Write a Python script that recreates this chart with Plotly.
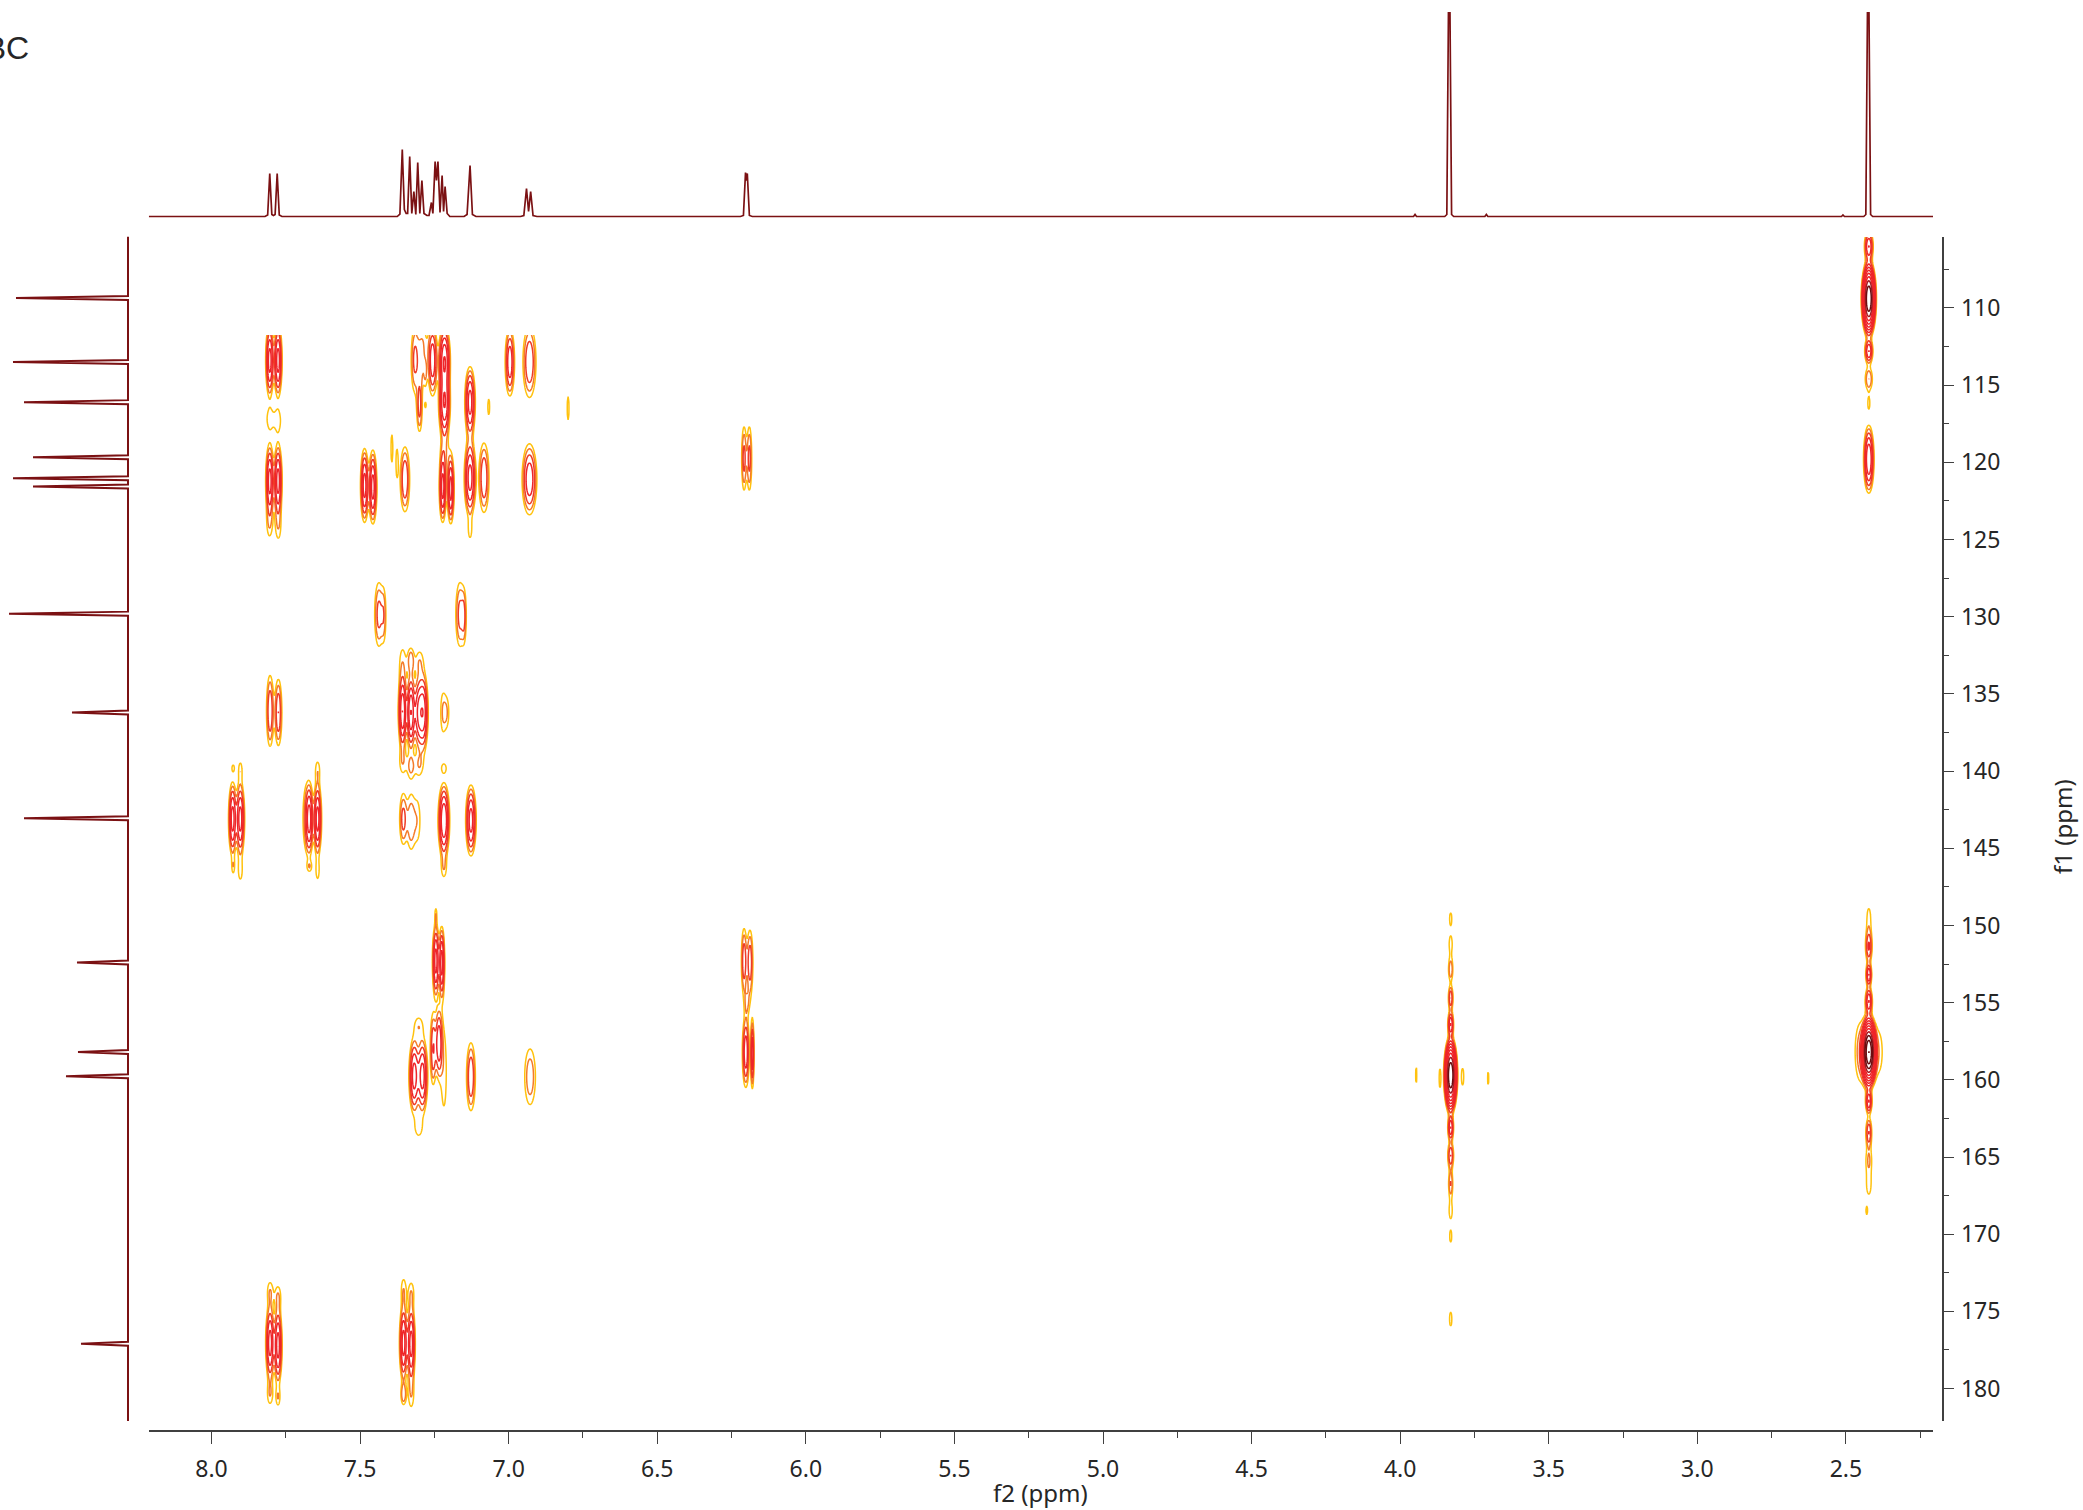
import numpy as np
import plotly.graph_objects as go

W, H = 2083, 1510

# ---- 1H trace along the top (ppm, height)
TOP_PPM = [8.211, 7.82, 7.811, 7.804, 7.797, 7.7915, 7.786, 7.779, 7.772, 7.763,
           7.375, 7.366, 7.358, 7.351, 7.345, 7.340, 7.333, 7.326, 7.319, 7.3125, 7.306, 7.299, 7.292,
           7.285, 7.275, 7.268, 7.26, 7.255, 7.2475, 7.243, 7.238, 7.231, 7.224, 7.219, 7.214, 7.207, 7.198,
           7.15, 7.14, 7.13, 7.122, 7.11,
           6.96, 6.949, 6.94, 6.933, 6.926, 6.918, 6.905,
           6.22, 6.21, 6.203, 6.201, 6.197, 6.19, 6.18,
           3.955, 3.95, 3.945,
           3.85, 3.843, 3.835, 3.827, 3.82,
           3.715, 3.71, 3.705,
           2.515, 2.51, 2.505,
           2.44, 2.433, 2.425, 2.417, 2.41,
           2.207]
TOP_INT = [0, 0, 1.5, 43, 2, 1, 2, 43, 1.5, 0,
           0, 2.5, 67, 7, 3, 3, 60, 3, 25, 2, 54, 3, 36,
           3, 1, 1, 14, 3, 55, 36, 55, 4, 41, 5, 30, 3, 0,
           0, 2, 51, 2, 0,
           0, 1, 28, 5, 25, 1, 0,
           0, 1, 44, 36, 43, 1, 0,
           0, 2, 0,
           0, 2, 300, 2, 0,
           0, 2, 0,
           0, 1.5, 0,
           0, 2, 300, 2, 0,
           0]

# ---- 13C trace along the left (ppm, height)
C13_PPM = [109.35, 113.5, 116.1, 119.67, 121.03, 121.57, 129.8, 136.2, 143.06, 152.4, 158.2, 159.77, 177.1]
C13_INT = [112, 115, 104, 95, 115, 95, 119, 56, 104, 51, 50, 62, 47]

# ---- HMBC cross peaks: (f2 ppm, f1 ppm, half width f2, half height f1, contour count)
# The contour surface is built from these read-off peak positions and extents.
PEAKS_F1_113 = [
    (7.804, 113.4, .014, 2.35, 4.5), (7.776, 113.4, .014, 2.35, 4.5),
    (7.804, 117.2, .008, .45, .5), (7.776, 117.3, .007, .45, .5),
    (7.316, 113.4, .012, 2.0, 2.2), (7.30, 116.4, .009, 1.6, 2.4),
    (7.295, 114.0, .006, .7, .6), (7.28, 114.3, .003, .5, .5), (7.29, 112.2, .01, .8, .7),
    (7.28, 116.3, .002, .15, .5),
    (7.256, 113.4, .016, 2.3, 3.8),
    (7.216, 113.4, .02, 2.3, 5), (7.216, 116.2, .02, 2.3, 5),
    (7.13, 116.1, .018, 2.3, 4.5),
    (7.067, 116.4, .003, .5, .5), (6.80, 116.5, .003, .75, .5),
    (6.996, 113.5, .016, 2.2, 3.8), (6.93, 113.5, .022, 2.3, 3),
]
PEAKS_F1_121 = [
    (7.804, 121.2, .014, 2.4, 4.5), (7.776, 121.2, .014, 2.4, 4.5),
    (7.805, 124.0, .006, .6, .5), (7.775, 124.2, .006, .6, .5),
    (7.485, 121.5, .014, 2.4, 4.5), (7.457, 121.6, .014, 2.4, 4.5),
    (7.393, 119.1, .003, .9, .5), (7.376, 120.0, .003, .8, .5),
    (7.349, 121.1, .016, 2.1, 3),
    (7.222, 121.6, .012, 2.3, 4.5), (7.195, 121.7, .012, 2.3, 4.5), (7.215, 119.3, .008, .7, .7),
    (7.13, 121.0, .02, 2.5, 4.5), (7.083, 121.0, .017, 2.25, 3), (7.13, 124.4, .004, .4, .5),
    (6.93, 121.1, .025, 2.3, 3.8),
    (6.208, 119.75, .008, 2.05, 2.4), (6.19, 119.75, .008, 2.05, 2.4),
]
PEAKS_F1_130 = [
    (7.437, 129.85, .014, 2.05, 2.4), (7.42, 129.9, .006, 1.3, 1.2),
    (7.164, 129.85, .014, 2.05, 2.4), (7.15, 130.0, .006, 1.3, 1.5),
]
PEAKS_F1_136 = [
    (7.803, 136.1, .012, 2.3, 3), (7.775, 136.2, .012, 2.15, 3),
    (7.357, 136.15, .015, 2.45, 5), (7.329, 136.2, .015, 2.45, 5),
    (7.30, 136.2, .02, 2.4, 4.5), (7.285, 136.2, .014, 2.3, 3.8),
    (7.357, 133.0, .008, .8, .6), (7.329, 132.8, .009, .7, 1.5), (7.30, 132.9, .009, .55, .7),
    (7.357, 139.4, .008, .55, .7), (7.329, 139.7, .009, .55, 1), (7.30, 139.6, .009, .5, .7),
    (7.222, 136.2, .006, 1, .7), (7.208, 136.2, .006, .7, .7), (7.218, 139.8, .006, .2, .5),
]
PEAKS_F1_143 = [
    (7.929, 143.1, .014, 2.4, 4.5), (7.903, 143.1, .015, 2.4, 4.5),
    (7.927, 139.8, .003, .15, .5), (7.903, 139.9, .004, .35, .5),
    (7.927, 146.2, .003, .3, .5), (7.903, 146.5, .005, .45, .5),
    (7.671, 143.1, .014, 2.4, 4.5), (7.643, 143.1, .014, 2.4, 4.5), (7.685, 143.0, .006, 1.2, .6),
    (7.643, 139.9, .005, .4, .5), (7.67, 146.2, .005, .2, .5), (7.643, 146.5, .004, .4, .5),
    (7.355, 143.1, .012, 1.6, 2.4), (7.329, 143.3, .012, 1.7, 1.7), (7.306, 143.2, .007, 1, .6),
    (7.218, 143.2, .02, 2.45, 5), (7.127, 143.2, .018, 2.3, 4.5), (7.218, 146.3, .006, .45, .6),
]
PEAKS_F1_152 = [
    (7.245, 152.3, .012, 2.4, 4.5), (7.225, 152.4, .01, 2.35, 4.5), (7.245, 149.3, .002, .3, .5),
    (6.208, 152.3, .009, 2.1, 2.8), (6.188, 152.4, .01, 2.1, 2.8), (6.198, 155.0, .005, .45, .6),
]
PEAKS_F1_158 = [
    (7.254, 158.0, .01, 2.3, 3), (7.235, 157.6, .012, 2.2, 3.8), (7.218, 159.5, .008, 2.2, .7),
    (7.318, 159.75, .018, 2.45, 4.5), (7.29, 159.75, .018, 2.45, 4.5),
    (7.303, 156.5, .01, .45, .7), (7.303, 163.1, .009, .45, .7),
    (7.127, 159.8, .015, 2.2, 3), (6.928, 159.8, .018, 1.8, 1.7),
    (6.202, 158.2, .012, 2.3, 3.8), (6.18, 158.3, .006, 2.3, 3.8),
]
PEAKS_F1_177 = [
    (7.803, 177.05, .015, 2.5, 4.5), (7.776, 177.2, .014, 2.5, 4.5),
    (7.803, 173.7, .007, .5, .7), (7.776, 174.0, .007, .5, .7),
    (7.803, 180.4, .007, .5, .7), (7.776, 180.6, .005, .4, .7),
    (7.354, 177.05, .014, 2.5, 4.5), (7.328, 177.1, .014, 2.5, 4.5),
    (7.354, 173.6, .006, .6, .7), (7.328, 173.8, .007, .55, .7),
    (7.354, 180.4, .008, .6, 1.7), (7.328, 180.4, .007, .7, .7),
]
PEAKS_OME = [  # f2 3.83 column
    (3.83, 149.5, .003, .28, .5), (3.83, 151.2, .005, .5, .5), (3.83, 152.9, .007, .62, 1.8),
    (3.83, 154.7, .008, .78, 3), (3.83, 156.4, .01, .85, 4), (3.83, 159.7, .024, 2.6, 10),
    (3.83, 163.1, .01, .85, 4), (3.83, 164.9, .01, .85, 3), (3.83, 166.7, .007, .77, 2),
    (3.83, 168.5, .005, .45, .5), (3.83, 170.2, .003, .3, .5), (3.83, 175.5, .004, .45, .5),
    (3.946, 159.7, .002, .55, .5), (3.866, 159.9, .003, .62, .5),
    (3.79, 159.8, .004, .55, .5), (3.704, 159.9, .002, .45, .5),
]
PEAKS_ME = [  # f2 2.42 column
    (2.423, 106.0, .015, 1.0, 4), (2.423, 109.4, .026, 2.6, 10), (2.423, 112.8, .014, .8, 4),
    (2.423, 114.6, .012, .7, 2), (2.423, 116.2, .003, .3, .5), (2.423, 119.8, .018, 2.2, 5),
    (2.423, 149.6, .006, .7, .6), (2.423, 151.4, .011, 1.0, 3), (2.423, 153.2, .01, .75, 4),
    (2.423, 154.9, .012, .9, 4), (2.423, 158.2, .029, 2.5, 11),
    (2.452, 158.2, .017, 1.8, 1.5), (2.39, 158.2, .012, 1.2, .7),
    (2.423, 161.4, .011, .8, 4), (2.423, 163.4, .01, .9, 3), (2.423, 165.1, .008, .55, .8),
    (2.423, 166.8, .007, .6, .6), (2.43, 168.5, .002, .2, .5),
]
AROMATIC = (PEAKS_F1_113 + PEAKS_F1_121 + PEAKS_F1_130 + PEAKS_F1_136 + PEAKS_F1_143
            + PEAKS_F1_152 + PEAKS_F1_158 + PEAKS_F1_177)
ALIPHATIC = PEAKS_OME + PEAKS_ME

F2_TICKS = [8.0, 7.5, 7.0, 6.5, 6.0, 5.5, 5.0, 4.5, 4.0, 3.5, 3.0, 2.5]
F1_TICKS = list(range(110, 185, 5))

LEVEL_RATIO = 1.5
YELLOW, ORANGE, REDOR, RED, DARK, MAROON = "#FFC20E", "#F47B2A", "#EF3B26", "#EE2529", "#A61C22", "#6B0D10"


def surface(peaks, xs, ys):
    I = np.zeros((len(ys), len(xs)))
    for f2, f1, dx, dy, n in peaks:
        s = np.sqrt(2 * n * np.log(LEVEL_RATIO))
        I += LEVEL_RATIO ** n * np.outer(np.exp(-0.5 * ((ys - f1) * s / dy) ** 2),
                                         np.exp(-0.5 * ((xs - f2) * s / dx) ** 2))
    return np.clip(np.log(np.maximum(I, 1e-9)) / np.log(LEVEL_RATIO), -3, None)


XA = np.concatenate([np.arange(6.15, 6.25, .0025), np.arange(6.76, 7.96, .0025)])
YA = np.arange(111.75, 182.0, .1)
XB = np.concatenate([np.arange(2.36, 2.49, .0025), np.arange(3.69, 3.96, .0025)])
YB = np.arange(105.4, 182.0, .1)

LEVELS_MAX = 14
scale = []
colors = [YELLOW, ORANGE, REDOR] + [RED] * 6 + [DARK, MAROON, MAROON, MAROON, MAROON, MAROON]
for i, c in enumerate(colors):
    scale.append([i / len(colors), c])
    scale.append([(i + 1) / len(colors), c])


def contour(xs, ys, peaks):
    return go.Contour(x=xs, y=ys, z=surface(peaks, xs, ys), xaxis="x", yaxis="y",
                      zmin=0, zmax=LEVELS_MAX, autocontour=False,
                      contours=dict(start=0.001, end=LEVELS_MAX, size=1, coloring="lines", showlabels=False),
                      colorscale=scale, showscale=False, hoverinfo="skip",
                      line=dict(width=1.5, smoothing=0))


# left 13C trace built from its peak table: baseline, wedge foot, tip, wedge foot
c13_y, c13_x = [105.37], [0]
for p, v in zip(C13_PPM, C13_INT):
    c13_y += [p - .13, p, p + .13]
    c13_x += [0, v, 0]
c13_y.append(182.1)
c13_x.append(0)

PX = lambda v: v / W
PY = lambda v: 1 - v / H
AX_COL = "#404040"
TXT = "#262626"
FONT = "Noto Sans"

fig = go.Figure()
fig.add_trace(contour(XA, YA, AROMATIC))
fig.add_trace(contour(XB, YB, ALIPHATIC))
fig.add_trace(go.Scatter(x=TOP_PPM, y=TOP_INT, mode="lines", xaxis="x", yaxis="y2",
                         line=dict(color="#7B1113", width=1.7), hoverinfo="skip", showlegend=False))
fig.add_trace(go.Scatter(x=c13_x, y=c13_y, mode="lines", xaxis="x2", yaxis="y",
                         line=dict(color="#7B1113", width=2), hoverinfo="skip", showlegend=False))

fig.update_layout(
    width=W, height=H, autosize=False, margin=dict(l=0, r=0, t=0, b=0),
    paper_bgcolor="white", plot_bgcolor="rgba(0,0,0,0)", showlegend=False,
    xaxis=dict(domain=[PX(148.8), PX(1933)], range=[8.211, 2.207], anchor="free", position=PY(1430.7),
               side="bottom", tickmode="array", tickvals=F2_TICKS, ticktext=[f"{t:.1f}" for t in F2_TICKS],
               ticks="outside", ticklen=12, tickwidth=1.3, tickcolor=AX_COL, showgrid=False, zeroline=False,
               showline=True, linecolor=AX_COL, linewidth=1.6, ticklabelstandoff=6,
               tickfont=dict(family=FONT, size=23, color=TXT),
               minor=dict(tickmode="array", tickvals=[7.75, 7.25, 6.75, 6.25, 5.75, 5.25, 4.75, 4.25, 3.75, 3.25, 2.75, 2.25],
                          ticks="outside", ticklen=6, tickwidth=1.3, tickcolor=AX_COL, showgrid=False)),
    yaxis=dict(domain=[PY(1421), PY(236.5)], range=[182.1, 105.37], anchor="free", position=PX(1942.5),
               side="right", tickmode="array", tickvals=F1_TICKS, ticktext=[str(t) for t in F1_TICKS],
               ticks="outside", ticklen=11, tickwidth=1.3, tickcolor=AX_COL, showgrid=False, zeroline=False,
               showline=True, linecolor=AX_COL, linewidth=1.6, ticklabelstandoff=2,
               tickfont=dict(family=FONT, size=23, color=TXT),
               minor=dict(tickmode="array", tickvals=[107.5 + 5 * i for i in range(15)],
                          ticks="outside", ticklen=6, tickwidth=1.3, tickcolor=AX_COL, showgrid=False)),
    yaxis2=dict(domain=[PY(219.5), PY(12)], range=[-3, 204.5], anchor="x", visible=False),
    xaxis2=dict(domain=[PX(0), PX(130)], range=[128, -2], anchor="y", visible=False),
    annotations=[
        dict(text="HMBC", xref="paper", yref="paper", x=PX(31), y=PY(48), xanchor="right", yanchor="middle",
             showarrow=False, font=dict(family="Liberation Sans", size=32, color=TXT)),
        dict(text="f2 (ppm)", xref="paper", yref="paper", x=PX(1040), y=PY(1492), xanchor="center", yanchor="middle",
             showarrow=False, font=dict(family=FONT, size=24, color=TXT)),
        dict(text="f1 (ppm)", xref="paper", yref="paper", x=PX(2063), y=PY(827), xanchor="center", yanchor="middle",
             textangle=-90, showarrow=False, font=dict(family=FONT, size=24, color=TXT)),
    ],
)
fig.write_html("out.html", config=dict(displayModeBar=False),
               post_script="document.body.style.margin='0';document.documentElement.style.overflow='hidden';")
